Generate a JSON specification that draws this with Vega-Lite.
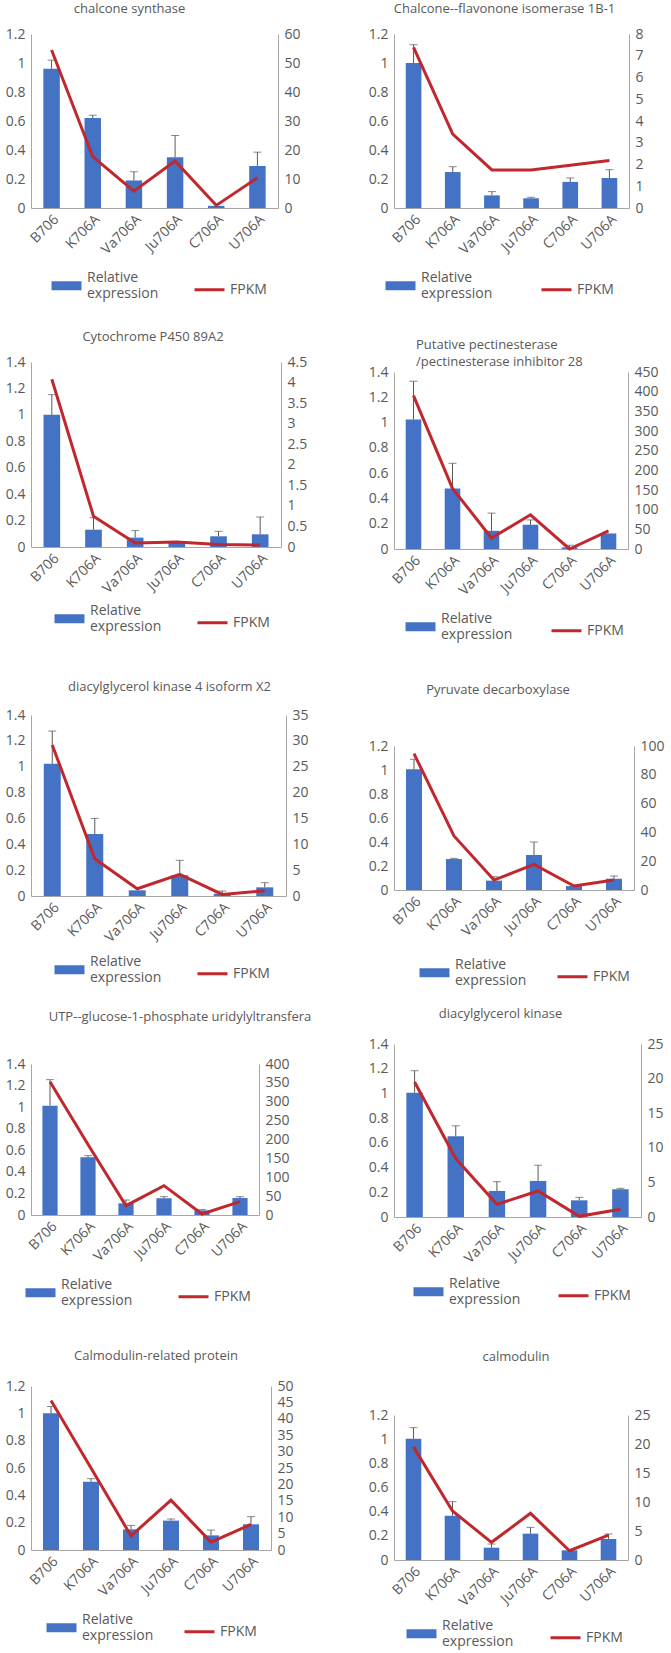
{
  "$schema": "https://vega.github.io/schema/vega-lite/v6.json",
  "background": "white",
  "padding": {"left": 5, "top": 2, "right": 3, "bottom": 2},
  "config": {
    "font": "Open Sans",
    "view": {"stroke": null},
    "axis": {"grid": false, "labelFont": "Open Sans", "labelFontSize": 14, "labelColor": "#595959", "domainColor": "#A6A6A6", "ticks": false, "labelPadding": 6},
    "title": {"fontSize": 13, "fontWeight": "normal", "color": "#595959", "font": "Open Sans", "frame": "group"}
  },
  "data": {"values": [
    {"g": 1, "s": "B706", "r": 0.96, "h": 1.02, "f": 54.5},
    {"g": 1, "s": "K706A", "r": 0.62, "h": 0.64, "f": 17.7},
    {"g": 1, "s": "Va706A", "r": 0.19, "h": 0.25, "f": 5.8},
    {"g": 1, "s": "Ju706A", "r": 0.35, "h": 0.5, "f": 16.2},
    {"g": 1, "s": "C706A", "r": 0.015, "h": 0.015, "f": 0.9},
    {"g": 1, "s": "U706A", "r": 0.29, "h": 0.385, "f": 10.4},
    {"g": 2, "s": "B706", "r": 1.0, "h": 1.126, "f": 7.39},
    {"g": 2, "s": "K706A", "r": 0.248, "h": 0.285, "f": 3.4},
    {"g": 2, "s": "Va706A", "r": 0.087, "h": 0.113, "f": 1.75},
    {"g": 2, "s": "Ju706A", "r": 0.067, "h": 0.074, "f": 1.75},
    {"g": 2, "s": "C706A", "r": 0.18, "h": 0.207, "f": 1.97},
    {"g": 2, "s": "U706A", "r": 0.207, "h": 0.264, "f": 2.18},
    {"g": 3, "s": "B706", "r": 1.0, "h": 1.153, "f": 4.08},
    {"g": 3, "s": "K706A", "r": 0.131, "h": 0.222, "f": 0.75},
    {"g": 3, "s": "Va706A", "r": 0.071, "h": 0.124, "f": 0.1},
    {"g": 3, "s": "Ju706A", "r": 0.03, "h": 0.03, "f": 0.12},
    {"g": 3, "s": "C706A", "r": 0.081, "h": 0.119, "f": 0.06},
    {"g": 3, "s": "U706A", "r": 0.096, "h": 0.227, "f": 0.05},
    {"g": 4, "s": "B706", "r": 1.024, "h": 1.327, "f": 390},
    {"g": 4, "s": "K706A", "r": 0.478, "h": 0.678, "f": 154},
    {"g": 4, "s": "Va706A", "r": 0.144, "h": 0.284, "f": 28},
    {"g": 4, "s": "Ju706A", "r": 0.192, "h": 0.23, "f": 87},
    {"g": 4, "s": "C706A", "r": 0.013, "h": 0.03, "f": 0},
    {"g": 4, "s": "U706A", "r": 0.123, "h": 0.123, "f": 46},
    {"g": 5, "s": "B706", "r": 1.023, "h": 1.276, "f": 29.2},
    {"g": 5, "s": "K706A", "r": 0.48, "h": 0.6, "f": 7.2},
    {"g": 5, "s": "Va706A", "r": 0.044, "h": 0.044, "f": 1.4},
    {"g": 5, "s": "Ju706A", "r": 0.16, "h": 0.276, "f": 4.2},
    {"g": 5, "s": "C706A", "r": 0.018, "h": 0.039, "f": 0.3},
    {"g": 5, "s": "U706A", "r": 0.067, "h": 0.103, "f": 1.0},
    {"g": 6, "s": "B706", "r": 1.006, "h": 1.089, "f": 94.7},
    {"g": 6, "s": "K706A", "r": 0.258, "h": 0.264, "f": 37.5},
    {"g": 6, "s": "Va706A", "r": 0.078, "h": 0.111, "f": 6.9},
    {"g": 6, "s": "Ju706A", "r": 0.292, "h": 0.4, "f": 17.8},
    {"g": 6, "s": "C706A", "r": 0.033, "h": 0.033, "f": 2.8},
    {"g": 6, "s": "U706A", "r": 0.094, "h": 0.117, "f": 6.9},
    {"g": 7, "s": "B706", "r": 1.014, "h": 1.255, "f": 353},
    {"g": 7, "s": "K706A", "r": 0.535, "h": 0.55, "f": 187},
    {"g": 7, "s": "Va706A", "r": 0.108, "h": 0.139, "f": 24.7},
    {"g": 7, "s": "Ju706A", "r": 0.155, "h": 0.17, "f": 77.7},
    {"g": 7, "s": "C706A", "r": 0.043, "h": 0.05, "f": 2.6},
    {"g": 7, "s": "U706A", "r": 0.158, "h": 0.17, "f": 35.3},
    {"g": 8, "s": "B706", "r": 1.005, "h": 1.184, "f": 19.5},
    {"g": 8, "s": "K706A", "r": 0.654, "h": 0.738, "f": 8.45},
    {"g": 8, "s": "Va706A", "r": 0.211, "h": 0.286, "f": 1.83},
    {"g": 8, "s": "Ju706A", "r": 0.292, "h": 0.419, "f": 3.76},
    {"g": 8, "s": "C706A", "r": 0.135, "h": 0.159, "f": 0.1},
    {"g": 8, "s": "U706A", "r": 0.224, "h": 0.232, "f": 1.11},
    {"g": 9, "s": "B706", "r": 1.0, "h": 1.05, "f": 45.6},
    {"g": 9, "s": "K706A", "r": 0.5, "h": 0.522, "f": 25},
    {"g": 9, "s": "Va706A", "r": 0.151, "h": 0.18, "f": 4.3},
    {"g": 9, "s": "Ju706A", "r": 0.215, "h": 0.227, "f": 15.2},
    {"g": 9, "s": "C706A", "r": 0.107, "h": 0.146, "f": 2.4},
    {"g": 9, "s": "U706A", "r": 0.188, "h": 0.244, "f": 7.8},
    {"g": 10, "s": "B706", "r": 1.004, "h": 1.095, "f": 19.5},
    {"g": 10, "s": "K706A", "r": 0.367, "h": 0.483, "f": 8.45},
    {"g": 10, "s": "Va706A", "r": 0.102, "h": 0.132, "f": 3.05},
    {"g": 10, "s": "Ju706A", "r": 0.218, "h": 0.27, "f": 8.05},
    {"g": 10, "s": "C706A", "r": 0.08, "h": 0.08, "f": 1.6},
    {"g": 10, "s": "U706A", "r": 0.174, "h": 0.215, "f": 4.3}
  ]},
  "resolve": {"scale": {"color": "independent", "x": "independent", "y": "independent"}, "legend": {"color": "independent"}},
  "spacing": 56,
  "hconcat": [
    {
      "spacing": 0,
      "resolve": {"scale": {"color": "independent", "x": "independent", "y": "independent"}, "legend": {"color": "independent"}},
      "vconcat": [
        {
          "width": 247, "height": 174,
          "title": {"text": "chalcone synthase", "offset": 11.5, "dx": -25, "frame": "group"},
          "transform": [{"filter": "datum.g == 1"}],
          "layer": [
            {"layer": [
              {"mark": {"type": "bar"}, "encoding": {
                "x": {"field": "s", "type": "nominal", "sort": ["B706","K706A","Va706A","Ju706A","C706A","U706A"], "scale": {"paddingInner": 0.6, "paddingOuter": 0.3}, "axis": {"labelAngle": -45, "title": null, "labelPadding": 4}},
                "y": {"field": "r", "type": "quantitative", "title": null, "scale": {"domain": [0, 1.2], "nice": false}, "axis": {"values": [0,0.2,0.4,0.6,0.8,1,1.2], "format": "~g"}},
                "color": {"datum": "Relative expression", "type": "nominal", "scale": {"domain": ["Relative expression","FPKM"], "range": ["#4472C4","#C0282D"]},
                  "legend": {"orient": "bottom", "direction": "horizontal", "title": null, "symbolSize": 900, "labelFontSize": 14, "labelColor": "#595959", "labelFont": "Open Sans", "columnPadding": 15, "labelOffset": 4, "padding": 0, "offset": 12, "symbolOffset": 19,
                    "labelExpr": "datum.label == 'Relative expression' ? ['Relative','expression'] : datum.label",
                    "encode": {"labels": {"update": {"dy": {"signal": "datum.value == 'FPKM' ? 0 : -8"}}}, "symbols": {"update": {"shape": {"signal": "datum.value == 'FPKM' ? 'M-1,0H1' : 'M-1,-0.3H1V0.3H-1Z'"}, "fill": {"signal": "datum.value == 'FPKM' ? 'transparent' : '#4472C4'"}, "stroke": {"signal": "datum.value == 'FPKM' ? '#C0282D' : 'transparent'"}, "strokeWidth": {"value": 3}, "opacity": {"value": 1}}}}}}
              }},
              {"mark": {"type": "rule", "color": "#595959"}, "encoding": {
                "x": {"field": "s", "type": "nominal", "sort": ["B706","K706A","Va706A","Ju706A","C706A","U706A"], "scale": {"paddingInner": 0.6, "paddingOuter": 0.3}, "axis": {"labelAngle": -45, "title": null, "labelPadding": 4}},
                "y": {"field": "r", "type": "quantitative", "title": null, "scale": {"domain": [0, 1.2], "nice": false}, "axis": {"values": [0,0.2,0.4,0.6,0.8,1,1.2], "format": "~g"}},
                "y2": {"field": "h"}
              }},
              {"transform": [{"filter": "datum.h > datum.r"}], "mark": {"type": "tick", "color": "#595959", "size": 8, "thickness": 1}, "encoding": {
                "x": {"field": "s", "type": "nominal", "sort": ["B706","K706A","Va706A","Ju706A","C706A","U706A"], "scale": {"paddingInner": 0.6, "paddingOuter": 0.3}, "axis": {"labelAngle": -45, "title": null, "labelPadding": 4}},
                "y": {"field": "h", "type": "quantitative", "title": null, "scale": {"domain": [0, 1.2], "nice": false}, "axis": {"values": [0,0.2,0.4,0.6,0.8,1,1.2], "format": "~g"}}
              }}
            ]},
            {"mark": {"type": "line", "color": "#C0282D", "strokeWidth": 3}, "encoding": {
              "x": {"field": "s", "type": "nominal", "sort": ["B706","K706A","Va706A","Ju706A","C706A","U706A"], "scale": {"paddingInner": 0.6, "paddingOuter": 0.3}, "axis": {"labelAngle": -45, "title": null, "labelPadding": 4}},
              "y": {"field": "f", "type": "quantitative", "title": null, "scale": {"domain": [0, 60], "nice": false}, "axis": {"orient": "right", "values": [0,10,20,30,40,50,60]}}
            }}
          ],
          "resolve": {"scale": {"y": "independent"}}
        },
        {
          "width": 250, "height": 185,
          "title": {"text": ["", "Cytochrome P450 89A2"], "lineHeight": 29, "offset": 11.5, "dx": -3, "frame": "group"},
          "transform": [{"filter": "datum.g == 3"}],
          "layer": [
            {"layer": [
              {"mark": {"type": "bar"}, "encoding": {
                "x": {"field": "s", "type": "nominal", "sort": ["B706","K706A","Va706A","Ju706A","C706A","U706A"], "scale": {"paddingInner": 0.6, "paddingOuter": 0.3}, "axis": {"labelAngle": -45, "title": null, "labelPadding": 4}},
                "y": {"field": "r", "type": "quantitative", "title": null, "scale": {"domain": [0, 1.4], "nice": false}, "axis": {"values": [0,0.2,0.4,0.6,0.8,1,1.2,1.4], "format": "~g"}},
                "color": {"datum": "Relative expression", "type": "nominal", "scale": {"domain": ["Relative expression","FPKM"], "range": ["#4472C4","#C0282D"]},
                  "legend": {"orient": "bottom", "direction": "horizontal", "title": null, "symbolSize": 900, "labelFontSize": 14, "labelColor": "#595959", "labelFont": "Open Sans", "columnPadding": 12, "labelOffset": 4, "padding": 0, "offset": 6, "symbolOffset": 22,
                    "labelExpr": "datum.label == 'Relative expression' ? ['Relative','expression'] : datum.label",
                    "encode": {"labels": {"update": {"dy": {"signal": "datum.value == 'FPKM' ? 0 : -8"}}}, "symbols": {"update": {"shape": {"signal": "datum.value == 'FPKM' ? 'M-1,0H1' : 'M-1,-0.3H1V0.3H-1Z'"}, "fill": {"signal": "datum.value == 'FPKM' ? 'transparent' : '#4472C4'"}, "stroke": {"signal": "datum.value == 'FPKM' ? '#C0282D' : 'transparent'"}, "strokeWidth": {"value": 3}, "opacity": {"value": 1}}}}}}
              }},
              {"mark": {"type": "rule", "color": "#595959"}, "encoding": {
                "x": {"field": "s", "type": "nominal", "sort": ["B706","K706A","Va706A","Ju706A","C706A","U706A"], "scale": {"paddingInner": 0.6, "paddingOuter": 0.3}, "axis": {"labelAngle": -45, "title": null, "labelPadding": 4}},
                "y": {"field": "r", "type": "quantitative", "title": null, "scale": {"domain": [0, 1.4], "nice": false}, "axis": {"values": [0,0.2,0.4,0.6,0.8,1,1.2,1.4], "format": "~g"}},
                "y2": {"field": "h"}
              }},
              {"transform": [{"filter": "datum.h > datum.r"}], "mark": {"type": "tick", "color": "#595959", "size": 8, "thickness": 1}, "encoding": {
                "x": {"field": "s", "type": "nominal", "sort": ["B706","K706A","Va706A","Ju706A","C706A","U706A"], "scale": {"paddingInner": 0.6, "paddingOuter": 0.3}, "axis": {"labelAngle": -45, "title": null, "labelPadding": 4}},
                "y": {"field": "h", "type": "quantitative", "title": null, "scale": {"domain": [0, 1.4], "nice": false}, "axis": {"values": [0,0.2,0.4,0.6,0.8,1,1.2,1.4], "format": "~g"}}
              }}
            ]},
            {"mark": {"type": "line", "color": "#C0282D", "strokeWidth": 3}, "encoding": {
              "x": {"field": "s", "type": "nominal", "sort": ["B706","K706A","Va706A","Ju706A","C706A","U706A"], "scale": {"paddingInner": 0.6, "paddingOuter": 0.3}, "axis": {"labelAngle": -45, "title": null, "labelPadding": 4}},
              "y": {"field": "f", "type": "quantitative", "title": null, "scale": {"domain": [0, 4.5], "nice": false}, "axis": {"orient": "right", "values": [0,0.5,1,1.5,2,2.5,3,3.5,4,4.5], "format": "~g"}}
            }}
          ],
          "resolve": {"scale": {"y": "independent"}}
        },
        {
          "width": 255, "height": 181,
          "title": {"text": ["", "diacylglycerol kinase 4 isoform X2"], "lineHeight": 46, "offset": 14.5, "dx": 11, "frame": "group"},
          "transform": [{"filter": "datum.g == 5"}],
          "layer": [
            {"layer": [
              {"mark": {"type": "bar"}, "encoding": {
                "x": {"field": "s", "type": "nominal", "sort": ["B706","K706A","Va706A","Ju706A","C706A","U706A"], "scale": {"paddingInner": 0.6, "paddingOuter": 0.3}, "axis": {"labelAngle": -45, "title": null, "labelPadding": 4}},
                "y": {"field": "r", "type": "quantitative", "title": null, "scale": {"domain": [0, 1.4], "nice": false}, "axis": {"values": [0,0.2,0.4,0.6,0.8,1,1.2,1.4], "format": "~g"}},
                "color": {"datum": "Relative expression", "type": "nominal", "scale": {"domain": ["Relative expression","FPKM"], "range": ["#4472C4","#C0282D"]},
                  "legend": {"orient": "bottom", "direction": "horizontal", "title": null, "symbolSize": 900, "labelFontSize": 14, "labelColor": "#595959", "labelFont": "Open Sans", "columnPadding": 12, "labelOffset": 4, "padding": 0, "offset": 8, "symbolOffset": 22,
                    "labelExpr": "datum.label == 'Relative expression' ? ['Relative','expression'] : datum.label",
                    "encode": {"labels": {"update": {"dy": {"signal": "datum.value == 'FPKM' ? 0 : -8"}}}, "symbols": {"update": {"shape": {"signal": "datum.value == 'FPKM' ? 'M-1,0H1' : 'M-1,-0.3H1V0.3H-1Z'"}, "fill": {"signal": "datum.value == 'FPKM' ? 'transparent' : '#4472C4'"}, "stroke": {"signal": "datum.value == 'FPKM' ? '#C0282D' : 'transparent'"}, "strokeWidth": {"value": 3}, "opacity": {"value": 1}}}}}}
              }},
              {"mark": {"type": "rule", "color": "#595959"}, "encoding": {
                "x": {"field": "s", "type": "nominal", "sort": ["B706","K706A","Va706A","Ju706A","C706A","U706A"], "scale": {"paddingInner": 0.6, "paddingOuter": 0.3}, "axis": {"labelAngle": -45, "title": null, "labelPadding": 4}},
                "y": {"field": "r", "type": "quantitative", "title": null, "scale": {"domain": [0, 1.4], "nice": false}, "axis": {"values": [0,0.2,0.4,0.6,0.8,1,1.2,1.4], "format": "~g"}},
                "y2": {"field": "h"}
              }},
              {"transform": [{"filter": "datum.h > datum.r"}], "mark": {"type": "tick", "color": "#595959", "size": 8, "thickness": 1}, "encoding": {
                "x": {"field": "s", "type": "nominal", "sort": ["B706","K706A","Va706A","Ju706A","C706A","U706A"], "scale": {"paddingInner": 0.6, "paddingOuter": 0.3}, "axis": {"labelAngle": -45, "title": null, "labelPadding": 4}},
                "y": {"field": "h", "type": "quantitative", "title": null, "scale": {"domain": [0, 1.4], "nice": false}, "axis": {"values": [0,0.2,0.4,0.6,0.8,1,1.2,1.4], "format": "~g"}}
              }}
            ]},
            {"mark": {"type": "line", "color": "#C0282D", "strokeWidth": 3}, "encoding": {
              "x": {"field": "s", "type": "nominal", "sort": ["B706","K706A","Va706A","Ju706A","C706A","U706A"], "scale": {"paddingInner": 0.6, "paddingOuter": 0.3}, "axis": {"labelAngle": -45, "title": null, "labelPadding": 4}},
              "y": {"field": "f", "type": "quantitative", "title": null, "scale": {"domain": [0, 35], "nice": false}, "axis": {"orient": "right", "values": [0,5,10,15,20,25,30,35]}}
            }}
          ],
          "resolve": {"scale": {"y": "independent"}}
        },
        {
          "width": 228, "height": 151,
          "title": {"text": ["", "UTP--glucose-1-phosphate uridylyltransfera"], "lineHeight": 25, "offset": 33.5, "dx": 35, "frame": "group"},
          "transform": [{"filter": "datum.g == 7"}],
          "layer": [
            {"layer": [
              {"mark": {"type": "bar"}, "encoding": {
                "x": {"field": "s", "type": "nominal", "sort": ["B706","K706A","Va706A","Ju706A","C706A","U706A"], "scale": {"paddingInner": 0.6, "paddingOuter": 0.3}, "axis": {"labelAngle": -45, "title": null, "labelPadding": 4}},
                "y": {"field": "r", "type": "quantitative", "title": null, "scale": {"domain": [0, 1.4], "nice": false}, "axis": {"values": [0,0.2,0.4,0.6,0.8,1,1.2,1.4], "format": "~g"}},
                "color": {"datum": "Relative expression", "type": "nominal", "scale": {"domain": ["Relative expression","FPKM"], "range": ["#4472C4","#C0282D"]},
                  "legend": {"orient": "bottom", "direction": "horizontal", "title": null, "symbolSize": 900, "labelFontSize": 14, "labelColor": "#595959", "labelFont": "Open Sans", "columnPadding": 39, "labelOffset": 4, "padding": 0, "offset": 12, "symbolOffset": -7,
                    "labelExpr": "datum.label == 'Relative expression' ? ['Relative','expression'] : datum.label",
                    "encode": {"labels": {"update": {"dy": {"signal": "datum.value == 'FPKM' ? 0 : -8"}}}, "symbols": {"update": {"shape": {"signal": "datum.value == 'FPKM' ? 'M-1,0H1' : 'M-1,-0.3H1V0.3H-1Z'"}, "fill": {"signal": "datum.value == 'FPKM' ? 'transparent' : '#4472C4'"}, "stroke": {"signal": "datum.value == 'FPKM' ? '#C0282D' : 'transparent'"}, "strokeWidth": {"value": 3}, "opacity": {"value": 1}}}}}}
              }},
              {"mark": {"type": "rule", "color": "#595959"}, "encoding": {
                "x": {"field": "s", "type": "nominal", "sort": ["B706","K706A","Va706A","Ju706A","C706A","U706A"], "scale": {"paddingInner": 0.6, "paddingOuter": 0.3}, "axis": {"labelAngle": -45, "title": null, "labelPadding": 4}},
                "y": {"field": "r", "type": "quantitative", "title": null, "scale": {"domain": [0, 1.4], "nice": false}, "axis": {"values": [0,0.2,0.4,0.6,0.8,1,1.2,1.4], "format": "~g"}},
                "y2": {"field": "h"}
              }},
              {"transform": [{"filter": "datum.h > datum.r"}], "mark": {"type": "tick", "color": "#595959", "size": 8, "thickness": 1}, "encoding": {
                "x": {"field": "s", "type": "nominal", "sort": ["B706","K706A","Va706A","Ju706A","C706A","U706A"], "scale": {"paddingInner": 0.6, "paddingOuter": 0.3}, "axis": {"labelAngle": -45, "title": null, "labelPadding": 4}},
                "y": {"field": "h", "type": "quantitative", "title": null, "scale": {"domain": [0, 1.4], "nice": false}, "axis": {"values": [0,0.2,0.4,0.6,0.8,1,1.2,1.4], "format": "~g"}}
              }}
            ]},
            {"mark": {"type": "line", "color": "#C0282D", "strokeWidth": 3}, "encoding": {
              "x": {"field": "s", "type": "nominal", "sort": ["B706","K706A","Va706A","Ju706A","C706A","U706A"], "scale": {"paddingInner": 0.6, "paddingOuter": 0.3}, "axis": {"labelAngle": -45, "title": null, "labelPadding": 4}},
              "y": {"field": "f", "type": "quantitative", "title": null, "scale": {"domain": [0, 400], "nice": false}, "axis": {"orient": "right", "values": [0,50,100,150,200,250,300,350,400]}}
            }}
          ],
          "resolve": {"scale": {"y": "independent"}}
        },
        {
          "width": 240, "height": 164,
          "title": {"text": ["", "Calmodulin-related protein"], "lineHeight": 41, "offset": 16.5, "dx": 5, "frame": "group"},
          "transform": [{"filter": "datum.g == 9"}],
          "layer": [
            {"layer": [
              {"mark": {"type": "bar"}, "encoding": {
                "x": {"field": "s", "type": "nominal", "sort": ["B706","K706A","Va706A","Ju706A","C706A","U706A"], "scale": {"paddingInner": 0.6, "paddingOuter": 0.3}, "axis": {"labelAngle": -45, "title": null, "labelPadding": 4}},
                "y": {"field": "r", "type": "quantitative", "title": null, "scale": {"domain": [0, 1.2], "nice": false}, "axis": {"values": [0,0.2,0.4,0.6,0.8,1,1.2], "format": "~g"}},
                "color": {"datum": "Relative expression", "type": "nominal", "scale": {"domain": ["Relative expression","FPKM"], "range": ["#4472C4","#C0282D"]},
                  "legend": {"orient": "bottom", "direction": "horizontal", "title": null, "symbolSize": 900, "labelFontSize": 14, "labelColor": "#595959", "labelFont": "Open Sans", "columnPadding": 15, "labelOffset": 4, "padding": 0, "offset": 12, "symbolOffset": 14,
                    "labelExpr": "datum.label == 'Relative expression' ? ['Relative','expression'] : datum.label",
                    "encode": {"labels": {"update": {"dy": {"signal": "datum.value == 'FPKM' ? 0 : -8"}}}, "symbols": {"update": {"shape": {"signal": "datum.value == 'FPKM' ? 'M-1,0H1' : 'M-1,-0.3H1V0.3H-1Z'"}, "fill": {"signal": "datum.value == 'FPKM' ? 'transparent' : '#4472C4'"}, "stroke": {"signal": "datum.value == 'FPKM' ? '#C0282D' : 'transparent'"}, "strokeWidth": {"value": 3}, "opacity": {"value": 1}}}}}}
              }},
              {"mark": {"type": "rule", "color": "#595959"}, "encoding": {
                "x": {"field": "s", "type": "nominal", "sort": ["B706","K706A","Va706A","Ju706A","C706A","U706A"], "scale": {"paddingInner": 0.6, "paddingOuter": 0.3}, "axis": {"labelAngle": -45, "title": null, "labelPadding": 4}},
                "y": {"field": "r", "type": "quantitative", "title": null, "scale": {"domain": [0, 1.2], "nice": false}, "axis": {"values": [0,0.2,0.4,0.6,0.8,1,1.2], "format": "~g"}},
                "y2": {"field": "h"}
              }},
              {"transform": [{"filter": "datum.h > datum.r"}], "mark": {"type": "tick", "color": "#595959", "size": 8, "thickness": 1}, "encoding": {
                "x": {"field": "s", "type": "nominal", "sort": ["B706","K706A","Va706A","Ju706A","C706A","U706A"], "scale": {"paddingInner": 0.6, "paddingOuter": 0.3}, "axis": {"labelAngle": -45, "title": null, "labelPadding": 4}},
                "y": {"field": "h", "type": "quantitative", "title": null, "scale": {"domain": [0, 1.2], "nice": false}, "axis": {"values": [0,0.2,0.4,0.6,0.8,1,1.2], "format": "~g"}}
              }}
            ]},
            {"mark": {"type": "line", "color": "#C0282D", "strokeWidth": 3}, "encoding": {
              "x": {"field": "s", "type": "nominal", "sort": ["B706","K706A","Va706A","Ju706A","C706A","U706A"], "scale": {"paddingInner": 0.6, "paddingOuter": 0.3}, "axis": {"labelAngle": -45, "title": null, "labelPadding": 4}},
              "y": {"field": "f", "type": "quantitative", "title": null, "scale": {"domain": [0, 50], "nice": false}, "axis": {"orient": "right", "values": [0,5,10,15,20,25,30,35,40,45,50]}}
            }}
          ],
          "resolve": {"scale": {"y": "independent"}}
        }
      ]
    },
    {
      "spacing": 0,
      "resolve": {"scale": {"color": "independent", "x": "independent", "y": "independent"}, "legend": {"color": "independent"}},
      "vconcat": [
        {
          "width": 235, "height": 174,
          "title": {"text": "Chalcone--flavonone isomerase 1B-1", "offset": 11.5, "dx": -7, "frame": "group"},
          "transform": [{"filter": "datum.g == 2"}],
          "layer": [
            {"layer": [
              {"mark": {"type": "bar"}, "encoding": {
                "x": {"field": "s", "type": "nominal", "sort": ["B706","K706A","Va706A","Ju706A","C706A","U706A"], "scale": {"paddingInner": 0.6, "paddingOuter": 0.3}, "axis": {"labelAngle": -45, "title": null, "labelPadding": 4}},
                "y": {"field": "r", "type": "quantitative", "title": null, "scale": {"domain": [0, 1.2], "nice": false}, "axis": {"values": [0,0.2,0.4,0.6,0.8,1,1.2], "format": "~g"}},
                "color": {"datum": "Relative expression", "type": "nominal", "scale": {"domain": ["Relative expression","FPKM"], "range": ["#4472C4","#C0282D"]},
                  "legend": {"orient": "bottom", "direction": "horizontal", "title": null, "symbolSize": 900, "labelFontSize": 14, "labelColor": "#595959", "labelFont": "Open Sans", "columnPadding": 42, "labelOffset": 4, "padding": 21, "offset": -9, "symbolOffset": -31,
                    "labelExpr": "datum.label == 'Relative expression' ? ['Relative','expression'] : datum.label",
                    "encode": {"labels": {"update": {"dy": {"signal": "datum.value == 'FPKM' ? 0 : -8"}}}, "symbols": {"update": {"shape": {"signal": "datum.value == 'FPKM' ? 'M-1,0H1' : 'M-1,-0.3H1V0.3H-1Z'"}, "fill": {"signal": "datum.value == 'FPKM' ? 'transparent' : '#4472C4'"}, "stroke": {"signal": "datum.value == 'FPKM' ? '#C0282D' : 'transparent'"}, "strokeWidth": {"value": 3}, "opacity": {"value": 1}}}}}}
              }},
              {"mark": {"type": "rule", "color": "#595959"}, "encoding": {
                "x": {"field": "s", "type": "nominal", "sort": ["B706","K706A","Va706A","Ju706A","C706A","U706A"], "scale": {"paddingInner": 0.6, "paddingOuter": 0.3}, "axis": {"labelAngle": -45, "title": null, "labelPadding": 4}},
                "y": {"field": "r", "type": "quantitative", "title": null, "scale": {"domain": [0, 1.2], "nice": false}, "axis": {"values": [0,0.2,0.4,0.6,0.8,1,1.2], "format": "~g"}},
                "y2": {"field": "h"}
              }},
              {"transform": [{"filter": "datum.h > datum.r"}], "mark": {"type": "tick", "color": "#595959", "size": 8, "thickness": 1}, "encoding": {
                "x": {"field": "s", "type": "nominal", "sort": ["B706","K706A","Va706A","Ju706A","C706A","U706A"], "scale": {"paddingInner": 0.6, "paddingOuter": 0.3}, "axis": {"labelAngle": -45, "title": null, "labelPadding": 4}},
                "y": {"field": "h", "type": "quantitative", "title": null, "scale": {"domain": [0, 1.2], "nice": false}, "axis": {"values": [0,0.2,0.4,0.6,0.8,1,1.2], "format": "~g"}}
              }}
            ]},
            {"mark": {"type": "line", "color": "#C0282D", "strokeWidth": 3}, "encoding": {
              "x": {"field": "s", "type": "nominal", "sort": ["B706","K706A","Va706A","Ju706A","C706A","U706A"], "scale": {"paddingInner": 0.6, "paddingOuter": 0.3}, "axis": {"labelAngle": -45, "title": null, "labelPadding": 4}},
              "y": {"field": "f", "type": "quantitative", "title": null, "scale": {"domain": [0, 8], "nice": false}, "axis": {"orient": "right", "values": [0,1,2,3,4,5,6,7,8]}}
            }}
          ],
          "resolve": {"scale": {"y": "independent"}}
        },
        {
          "width": 234, "height": 177,
          "title": {"text": ["", "Putative pectinesterase", "/pectinesterase inhibitor 28"], "offset": -4, "anchor": "start", "dx": 22, "lineHeight": 17, "frame": "group"},
          "transform": [{"filter": "datum.g == 4"}],
          "layer": [
            {"layer": [
              {"mark": {"type": "bar"}, "encoding": {
                "x": {"field": "s", "type": "nominal", "sort": ["B706","K706A","Va706A","Ju706A","C706A","U706A"], "scale": {"paddingInner": 0.6, "paddingOuter": 0.3}, "axis": {"labelAngle": -45, "title": null, "labelPadding": 4}},
                "y": {"field": "r", "type": "quantitative", "title": null, "scale": {"domain": [0, 1.4], "nice": false}, "axis": {"values": [0,0.2,0.4,0.6,0.8,1,1.2,1.4], "format": "~g"}},
                "color": {"datum": "Relative expression", "type": "nominal", "scale": {"domain": ["Relative expression","FPKM"], "range": ["#4472C4","#C0282D"]},
                  "legend": {"orient": "bottom", "direction": "horizontal", "title": null, "symbolSize": 900, "labelFontSize": 14, "labelColor": "#595959", "labelFont": "Open Sans", "columnPadding": 27, "labelOffset": 4, "padding": 0, "offset": 12, "symbolOffset": 10,
                    "labelExpr": "datum.label == 'Relative expression' ? ['Relative','expression'] : datum.label",
                    "encode": {"labels": {"update": {"dy": {"signal": "datum.value == 'FPKM' ? 0 : -8"}}}, "symbols": {"update": {"shape": {"signal": "datum.value == 'FPKM' ? 'M-1,0H1' : 'M-1,-0.3H1V0.3H-1Z'"}, "fill": {"signal": "datum.value == 'FPKM' ? 'transparent' : '#4472C4'"}, "stroke": {"signal": "datum.value == 'FPKM' ? '#C0282D' : 'transparent'"}, "strokeWidth": {"value": 3}, "opacity": {"value": 1}}}}}}
              }},
              {"mark": {"type": "rule", "color": "#595959"}, "encoding": {
                "x": {"field": "s", "type": "nominal", "sort": ["B706","K706A","Va706A","Ju706A","C706A","U706A"], "scale": {"paddingInner": 0.6, "paddingOuter": 0.3}, "axis": {"labelAngle": -45, "title": null, "labelPadding": 4}},
                "y": {"field": "r", "type": "quantitative", "title": null, "scale": {"domain": [0, 1.4], "nice": false}, "axis": {"values": [0,0.2,0.4,0.6,0.8,1,1.2,1.4], "format": "~g"}},
                "y2": {"field": "h"}
              }},
              {"transform": [{"filter": "datum.h > datum.r"}], "mark": {"type": "tick", "color": "#595959", "size": 8, "thickness": 1}, "encoding": {
                "x": {"field": "s", "type": "nominal", "sort": ["B706","K706A","Va706A","Ju706A","C706A","U706A"], "scale": {"paddingInner": 0.6, "paddingOuter": 0.3}, "axis": {"labelAngle": -45, "title": null, "labelPadding": 4}},
                "y": {"field": "h", "type": "quantitative", "title": null, "scale": {"domain": [0, 1.4], "nice": false}, "axis": {"values": [0,0.2,0.4,0.6,0.8,1,1.2,1.4], "format": "~g"}}
              }}
            ]},
            {"mark": {"type": "line", "color": "#C0282D", "strokeWidth": 3}, "encoding": {
              "x": {"field": "s", "type": "nominal", "sort": ["B706","K706A","Va706A","Ju706A","C706A","U706A"], "scale": {"paddingInner": 0.6, "paddingOuter": 0.3}, "axis": {"labelAngle": -45, "title": null, "labelPadding": 4}},
              "y": {"field": "f", "type": "quantitative", "title": null, "scale": {"domain": [0, 450], "nice": false}, "axis": {"orient": "right", "values": [0,50,100,150,200,250,300,350,400,450]}}
            }}
          ],
          "resolve": {"scale": {"y": "independent"}}
        },
        {
          "width": 240, "height": 144,
          "title": {"text": ["", "Pyruvate decarboxylase"], "lineHeight": 41, "offset": 42.5, "dx": -16, "frame": "group"},
          "transform": [{"filter": "datum.g == 6"}],
          "layer": [
            {"layer": [
              {"mark": {"type": "bar"}, "encoding": {
                "x": {"field": "s", "type": "nominal", "sort": ["B706","K706A","Va706A","Ju706A","C706A","U706A"], "scale": {"paddingInner": 0.6, "paddingOuter": 0.3}, "axis": {"labelAngle": -45, "title": null, "labelPadding": 4}},
                "y": {"field": "r", "type": "quantitative", "title": null, "scale": {"domain": [0, 1.2], "nice": false}, "axis": {"values": [0,0.2,0.4,0.6,0.8,1,1.2], "format": "~g"}},
                "color": {"datum": "Relative expression", "type": "nominal", "scale": {"domain": ["Relative expression","FPKM"], "range": ["#4472C4","#C0282D"]},
                  "legend": {"orient": "bottom", "direction": "horizontal", "title": null, "symbolSize": 900, "labelFontSize": 14, "labelColor": "#595959", "labelFont": "Open Sans", "columnPadding": 5, "labelOffset": 4, "padding": 0, "offset": 17, "symbolOffset": 24,
                    "labelExpr": "datum.label == 'Relative expression' ? ['Relative','expression'] : datum.label",
                    "encode": {"labels": {"update": {"dy": {"signal": "datum.value == 'FPKM' ? 0 : -8"}}}, "symbols": {"update": {"shape": {"signal": "datum.value == 'FPKM' ? 'M-1,0H1' : 'M-1,-0.3H1V0.3H-1Z'"}, "fill": {"signal": "datum.value == 'FPKM' ? 'transparent' : '#4472C4'"}, "stroke": {"signal": "datum.value == 'FPKM' ? '#C0282D' : 'transparent'"}, "strokeWidth": {"value": 3}, "opacity": {"value": 1}}}}}}
              }},
              {"mark": {"type": "rule", "color": "#595959"}, "encoding": {
                "x": {"field": "s", "type": "nominal", "sort": ["B706","K706A","Va706A","Ju706A","C706A","U706A"], "scale": {"paddingInner": 0.6, "paddingOuter": 0.3}, "axis": {"labelAngle": -45, "title": null, "labelPadding": 4}},
                "y": {"field": "r", "type": "quantitative", "title": null, "scale": {"domain": [0, 1.2], "nice": false}, "axis": {"values": [0,0.2,0.4,0.6,0.8,1,1.2], "format": "~g"}},
                "y2": {"field": "h"}
              }},
              {"transform": [{"filter": "datum.h > datum.r"}], "mark": {"type": "tick", "color": "#595959", "size": 8, "thickness": 1}, "encoding": {
                "x": {"field": "s", "type": "nominal", "sort": ["B706","K706A","Va706A","Ju706A","C706A","U706A"], "scale": {"paddingInner": 0.6, "paddingOuter": 0.3}, "axis": {"labelAngle": -45, "title": null, "labelPadding": 4}},
                "y": {"field": "h", "type": "quantitative", "title": null, "scale": {"domain": [0, 1.2], "nice": false}, "axis": {"values": [0,0.2,0.4,0.6,0.8,1,1.2], "format": "~g"}}
              }}
            ]},
            {"mark": {"type": "line", "color": "#C0282D", "strokeWidth": 3}, "encoding": {
              "x": {"field": "s", "type": "nominal", "sort": ["B706","K706A","Va706A","Ju706A","C706A","U706A"], "scale": {"paddingInner": 0.6, "paddingOuter": 0.3}, "axis": {"labelAngle": -45, "title": null, "labelPadding": 4}},
              "y": {"field": "f", "type": "quantitative", "title": null, "scale": {"domain": [0, 100], "nice": false}, "axis": {"orient": "right", "values": [0,20,40,60,80,100]}}
            }}
          ],
          "resolve": {"scale": {"y": "independent"}}
        },
        {
          "width": 247, "height": 173,
          "title": {"text": ["", "diacylglycerol kinase"], "lineHeight": 19, "offset": 16.5, "dx": -17, "frame": "group"},
          "transform": [{"filter": "datum.g == 8"}],
          "layer": [
            {"layer": [
              {"mark": {"type": "bar"}, "encoding": {
                "x": {"field": "s", "type": "nominal", "sort": ["B706","K706A","Va706A","Ju706A","C706A","U706A"], "scale": {"paddingInner": 0.6, "paddingOuter": 0.3}, "axis": {"labelAngle": -45, "title": null, "labelPadding": 4}},
                "y": {"field": "r", "type": "quantitative", "title": null, "scale": {"domain": [0, 1.4], "nice": false}, "axis": {"values": [0,0.2,0.4,0.6,0.8,1,1.2,1.4], "format": "~g"}},
                "color": {"datum": "Relative expression", "type": "nominal", "scale": {"domain": ["Relative expression","FPKM"], "range": ["#4472C4","#C0282D"]},
                  "legend": {"orient": "bottom", "direction": "horizontal", "title": null, "symbolSize": 900, "labelFontSize": 14, "labelColor": "#595959", "labelFont": "Open Sans", "columnPadding": 18, "labelOffset": 4, "padding": 0, "offset": 9, "symbolOffset": 18,
                    "labelExpr": "datum.label == 'Relative expression' ? ['Relative','expression'] : datum.label",
                    "encode": {"labels": {"update": {"dy": {"signal": "datum.value == 'FPKM' ? 0 : -8"}}}, "symbols": {"update": {"shape": {"signal": "datum.value == 'FPKM' ? 'M-1,0H1' : 'M-1,-0.3H1V0.3H-1Z'"}, "fill": {"signal": "datum.value == 'FPKM' ? 'transparent' : '#4472C4'"}, "stroke": {"signal": "datum.value == 'FPKM' ? '#C0282D' : 'transparent'"}, "strokeWidth": {"value": 3}, "opacity": {"value": 1}}}}}}
              }},
              {"mark": {"type": "rule", "color": "#595959"}, "encoding": {
                "x": {"field": "s", "type": "nominal", "sort": ["B706","K706A","Va706A","Ju706A","C706A","U706A"], "scale": {"paddingInner": 0.6, "paddingOuter": 0.3}, "axis": {"labelAngle": -45, "title": null, "labelPadding": 4}},
                "y": {"field": "r", "type": "quantitative", "title": null, "scale": {"domain": [0, 1.4], "nice": false}, "axis": {"values": [0,0.2,0.4,0.6,0.8,1,1.2,1.4], "format": "~g"}},
                "y2": {"field": "h"}
              }},
              {"transform": [{"filter": "datum.h > datum.r"}], "mark": {"type": "tick", "color": "#595959", "size": 8, "thickness": 1}, "encoding": {
                "x": {"field": "s", "type": "nominal", "sort": ["B706","K706A","Va706A","Ju706A","C706A","U706A"], "scale": {"paddingInner": 0.6, "paddingOuter": 0.3}, "axis": {"labelAngle": -45, "title": null, "labelPadding": 4}},
                "y": {"field": "h", "type": "quantitative", "title": null, "scale": {"domain": [0, 1.4], "nice": false}, "axis": {"values": [0,0.2,0.4,0.6,0.8,1,1.2,1.4], "format": "~g"}}
              }}
            ]},
            {"mark": {"type": "line", "color": "#C0282D", "strokeWidth": 3}, "encoding": {
              "x": {"field": "s", "type": "nominal", "sort": ["B706","K706A","Va706A","Ju706A","C706A","U706A"], "scale": {"paddingInner": 0.6, "paddingOuter": 0.3}, "axis": {"labelAngle": -45, "title": null, "labelPadding": 4}},
              "y": {"field": "f", "type": "quantitative", "title": null, "scale": {"domain": [0, 25], "nice": false}, "axis": {"orient": "right", "values": [0,5,10,15,20,25]}}
            }}
          ],
          "resolve": {"scale": {"y": "independent"}}
        },
        {
          "width": 234, "height": 145,
          "title": {"text": ["", "calmodulin"], "lineHeight": 43, "offset": 44.5, "dx": 5, "frame": "group"},
          "transform": [{"filter": "datum.g == 10"}],
          "layer": [
            {"layer": [
              {"mark": {"type": "bar"}, "encoding": {
                "x": {"field": "s", "type": "nominal", "sort": ["B706","K706A","Va706A","Ju706A","C706A","U706A"], "scale": {"paddingInner": 0.6, "paddingOuter": 0.3}, "axis": {"labelAngle": -45, "title": null, "labelPadding": 4}},
                "y": {"field": "r", "type": "quantitative", "title": null, "scale": {"domain": [0, 1.2], "nice": false}, "axis": {"values": [0,0.2,0.4,0.6,0.8,1,1.2], "format": "~g"}},
                "color": {"datum": "Relative expression", "type": "nominal", "scale": {"domain": ["Relative expression","FPKM"], "range": ["#4472C4","#C0282D"]},
                  "legend": {"orient": "bottom", "direction": "horizontal", "title": null, "symbolSize": 900, "labelFontSize": 14, "labelColor": "#595959", "labelFont": "Open Sans", "columnPadding": 24, "labelOffset": 4, "padding": 0, "offset": 8, "symbolOffset": 11,
                    "labelExpr": "datum.label == 'Relative expression' ? ['Relative','expression'] : datum.label",
                    "encode": {"labels": {"update": {"dy": {"signal": "datum.value == 'FPKM' ? 0 : -8"}}}, "symbols": {"update": {"shape": {"signal": "datum.value == 'FPKM' ? 'M-1,0H1' : 'M-1,-0.3H1V0.3H-1Z'"}, "fill": {"signal": "datum.value == 'FPKM' ? 'transparent' : '#4472C4'"}, "stroke": {"signal": "datum.value == 'FPKM' ? '#C0282D' : 'transparent'"}, "strokeWidth": {"value": 3}, "opacity": {"value": 1}}}}}}
              }},
              {"mark": {"type": "rule", "color": "#595959"}, "encoding": {
                "x": {"field": "s", "type": "nominal", "sort": ["B706","K706A","Va706A","Ju706A","C706A","U706A"], "scale": {"paddingInner": 0.6, "paddingOuter": 0.3}, "axis": {"labelAngle": -45, "title": null, "labelPadding": 4}},
                "y": {"field": "r", "type": "quantitative", "title": null, "scale": {"domain": [0, 1.2], "nice": false}, "axis": {"values": [0,0.2,0.4,0.6,0.8,1,1.2], "format": "~g"}},
                "y2": {"field": "h"}
              }},
              {"transform": [{"filter": "datum.h > datum.r"}], "mark": {"type": "tick", "color": "#595959", "size": 8, "thickness": 1}, "encoding": {
                "x": {"field": "s", "type": "nominal", "sort": ["B706","K706A","Va706A","Ju706A","C706A","U706A"], "scale": {"paddingInner": 0.6, "paddingOuter": 0.3}, "axis": {"labelAngle": -45, "title": null, "labelPadding": 4}},
                "y": {"field": "h", "type": "quantitative", "title": null, "scale": {"domain": [0, 1.2], "nice": false}, "axis": {"values": [0,0.2,0.4,0.6,0.8,1,1.2], "format": "~g"}}
              }}
            ]},
            {"mark": {"type": "line", "color": "#C0282D", "strokeWidth": 3}, "encoding": {
              "x": {"field": "s", "type": "nominal", "sort": ["B706","K706A","Va706A","Ju706A","C706A","U706A"], "scale": {"paddingInner": 0.6, "paddingOuter": 0.3}, "axis": {"labelAngle": -45, "title": null, "labelPadding": 4}},
              "y": {"field": "f", "type": "quantitative", "title": null, "scale": {"domain": [0, 25], "nice": false}, "axis": {"orient": "right", "values": [0,5,10,15,20,25]}}
            }}
          ],
          "resolve": {"scale": {"y": "independent"}}
        }
      ]
    }
  ]
}
